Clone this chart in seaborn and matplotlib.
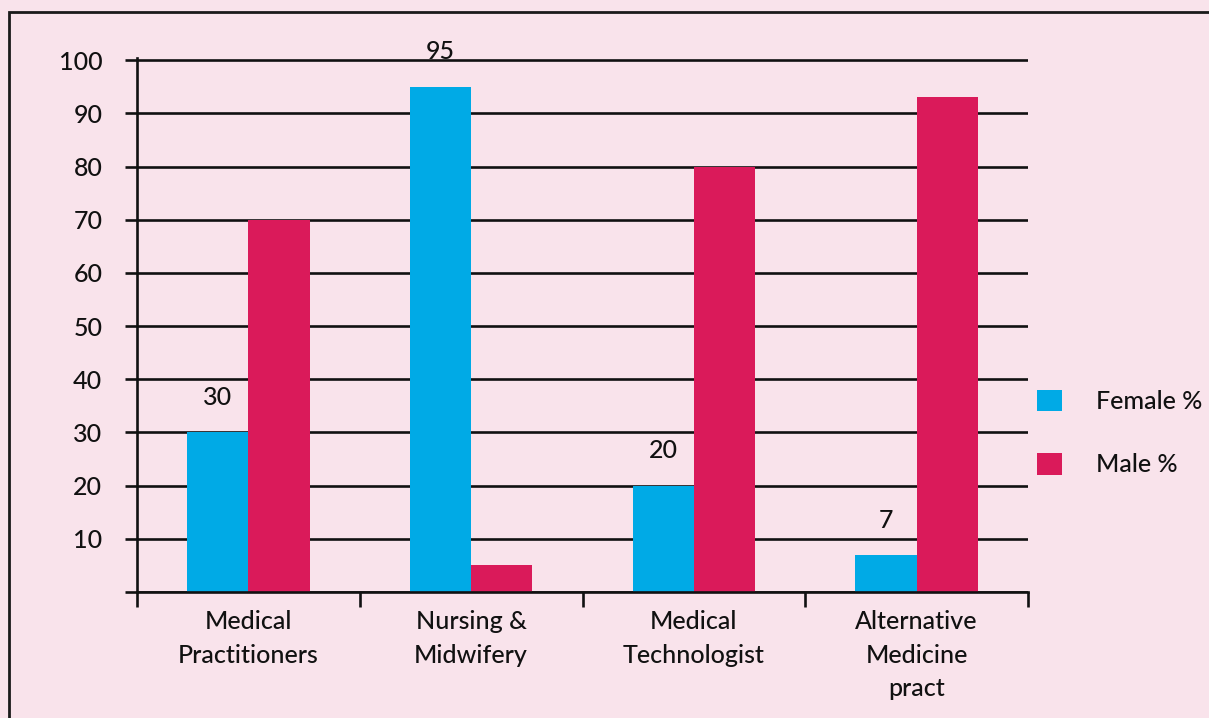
import matplotlib
matplotlib.use("Agg")
import matplotlib.pyplot as plt
from matplotlib.patches import Patch, Rectangle
import seaborn as sns
import pandas as pd

# Share of women and men in each health profession (%)
categories = ["Medical\nPractitioners", "Nursing &\nMidwifery",
              "Medical\nTechnologist", "Alternative\nMedicine\npract"]
female_pct = [30, 95, 20, 7]
male_pct = [70, 5, 80, 93]
series_names = ["Female %", "Male %"]
y_ticks = [10, 20, 30, 40, 50, 60, 70, 80, 90, 100]

BG = "#F9E3EB"
BLUE = "#00AAE6"
CRIMSON = "#DA1A5A"
INK = "#111111"

df = pd.DataFrame({
    "category": categories * 2,
    "series": [series_names[0]] * len(categories) + [series_names[1]] * len(categories),
    "value": female_pct + male_pct,
})

sns.set_theme(style="white")
plt.rcParams["font.family"] = ["Lato", "DejaVu Sans"]
plt.rcParams["font.weight"] = "medium"

fig = plt.figure(figsize=(12.09, 7.18), dpi=100, facecolor=BG)
ax = fig.add_axes([137 / 1209, 1 - 592 / 718, (1028 - 137) / 1209, (592 - 58) / 718])
ax.set_facecolor(BG)

sns.barplot(data=df, x="category", y="value", hue="series", order=categories,
            hue_order=series_names, palette=[BLUE, CRIMSON], width=0.55,
            saturation=1, linewidth=0, legend=False, ax=ax)

ax.set_ylim(0, 100.4)
ax.set_xlim(-0.5, 3.5)
ax.set_xlabel("")
ax.set_ylabel("")

# Horizontal rules behind the bars
ax.set_axisbelow(True)
ax.set_yticks([0] + y_ticks)
ax.set_yticklabels([""] + [str(v) for v in y_ticks])
ax.yaxis.grid(True, color=INK, linewidth=1.9)
ax.tick_params(axis="y", left=True, length=9, width=1.9, color=INK, pad=16,
               labelsize=18, labelcolor=INK)

# Category labels centred, ticks at the category boundaries
ax.set_xticks(range(len(categories)))
ax.set_xticklabels(categories, fontsize=18, color=INK, linespacing=1.55)
ax.tick_params(axis="x", which="major", bottom=True, length=0, pad=13)
ax.set_xticks([-0.5, 0.5, 1.5, 2.5, 3.5], minor=True)
ax.tick_params(axis="x", which="minor", bottom=True, length=11, width=1.9,
               color=INK, direction="out")

for side in ["top", "right"]:
    ax.spines[side].set_visible(False)
for side in ["left", "bottom"]:
    ax.spines[side].set_color(INK)
    ax.spines[side].set_linewidth(1.9)

# Value labels above the female bars
female_bars = ax.containers[0]
for bar, v in zip(female_bars, female_pct):
    ax.annotate(str(v), (bar.get_x() + bar.get_width() / 2, v),
                xytext=(0, 25), textcoords="offset points",
                ha="center", va="center", fontsize=18, color=INK,
                annotation_clip=False)

handles = [Patch(facecolor=BLUE, edgecolor="none"),
           Patch(facecolor=CRIMSON, edgecolor="none")]
ax.legend(handles, series_names, loc="center left",
          bbox_to_anchor=(1019 / 1209, 1 - 433 / 718), bbox_transform=fig.transFigure,
          frameon=False, fontsize=18, handlelength=1.0, handleheight=0.95,
          handletextpad=1.4, labelspacing=1.6, borderpad=0.2, labelcolor=INK)

# Outer frame
fig.patches.append(Rectangle((9 / 1209, -0.1), 1.2, 1 - 12 / 718 + 0.1,
                             transform=fig.transFigure, fill=False,
                             edgecolor="#1a1a1a", linewidth=2))

fig.savefig("out.png", dpi=100, facecolor=BG)
